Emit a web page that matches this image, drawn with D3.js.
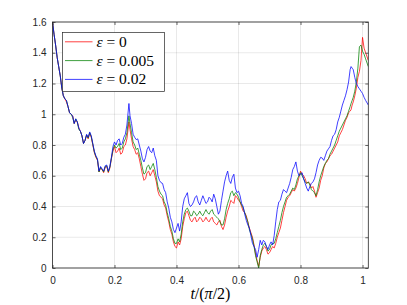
<!DOCTYPE html>
<html>
<head>
<meta charset="utf-8">
<script src="https://cdn.jsdelivr.net/npm/d3@7"></script>
<style>
  body { margin: 0; background: #fff; }
</style>
</head>
<body>
<div id="chart"></div>
<script>

// sample times t/(pi/2)
const tVals = [
  0, 0.01, 0.02, 0.03, 0.04, 0.05, 0.06, 0.07, 0.08, 0.09,
  0.10, 0.11, 0.12, 0.13, 0.14, 0.15, 0.16, 0.17, 0.18, 0.19,
  0.20, 0.21, 0.22, 0.23, 0.24, 0.2465, 0.25, 0.26, 0.27, 0.28, 0.29,
  0.30, 0.31, 0.32, 0.33, 0.34, 0.35, 0.36, 0.37, 0.38, 0.39,
  0.40, 0.41, 0.42, 0.43, 0.44, 0.45, 0.46, 0.47, 0.48, 0.49,
  0.50, 0.51, 0.52, 0.53, 0.54, 0.55, 0.56, 0.57, 0.58, 0.59,
  0.60, 0.61, 0.62, 0.63, 0.64, 0.65, 0.66, 0.665, 0.67, 0.68, 0.69,
  0.70, 0.71, 0.72, 0.73, 0.74, 0.75, 0.76, 0.77, 0.78, 0.79,
  0.80, 0.81, 0.82, 0.83, 0.84, 0.85, 0.86, 0.87, 0.88, 0.89,
  0.90, 0.91, 0.92, 0.93, 0.94, 0.95, 0.96, 0.963, 0.97, 0.98, 0.99,
  1.00, 1.01, 1.0186
]

// eps = 0  (red)
const epsZero = [
  1.60, 1.45, 1.31, 1.17, 1.10, 1.05, 1.00, 0.94, 0.95, 0.89,
  0.81, 0.865, 0.875, 0.80, 0.72, 0.625, 0.64, 0.655, 0.62, 0.71,
  0.79, 0.76, 0.74, 0.79, 0.84, 0.95, 0.90, 0.79, 0.74, 0.71, 0.61,
  0.58, 0.63, 0.62, 0.60, 0.50, 0.46, 0.41, 0.34, 0.25, 0.17,
  0.13, 0.15, 0.27, 0.36, 0.34, 0.30, 0.33, 0.31, 0.32, 0.31,
  0.31, 0.32, 0.30, 0.28, 0.31, 0.25, 0.33, 0.40, 0.43, 0.47,
  0.44, 0.40, 0.36, 0.30, 0.23, 0.15, 0.05, 0.01, 0.07, 0.13, 0.12,
  0.10, 0.14, 0.16, 0.23, 0.31, 0.40, 0.46, 0.49, 0.50, 0.55,
  0.63, 0.60, 0.55, 0.55, 0.53, 0.46, 0.52, 0.60, 0.68, 0.71,
  0.74, 0.78, 0.82, 0.88, 0.93, 0.98, 1.02, 1.03, 1.08, 1.17, 1.28,
  1.50, 1.40, 1.35
]

// eps = 0.005  (green)
const epsSmall = [
  1.60, 1.45, 1.31, 1.17, 1.10, 1.05, 1.00, 0.94, 0.95, 0.89,
  0.81, 0.865, 0.88, 0.805, 0.725, 0.625, 0.64, 0.66, 0.625, 0.715,
  0.80, 0.79, 0.77, 0.82, 0.88, 0.99, 0.94, 0.82, 0.77, 0.74, 0.65,
  0.62, 0.67, 0.66, 0.64, 0.53, 0.48, 0.43, 0.36, 0.27, 0.19,
  0.16, 0.17, 0.30, 0.38, 0.37, 0.34, 0.36, 0.35, 0.35, 0.36,
  0.36, 0.37, 0.35, 0.33, 0.30, 0.28, 0.38, 0.45, 0.50, 0.49,
  0.46, 0.41, 0.36, 0.30, 0.22, 0.14, 0.04, 0.00, 0.08, 0.15, 0.14,
  0.12, 0.16, 0.19, 0.27, 0.36, 0.43, 0.47, 0.50, 0.51, 0.58,
  0.62, 0.58, 0.55, 0.54, 0.50, 0.47, 0.56, 0.63, 0.68, 0.71,
  0.76, 0.80, 0.86, 0.91, 0.95, 0.99, 1.05, 1.07, 1.11, 1.21, 1.44,
  1.41, 1.36, 1.31
]

// eps = 0.02  (blue)
const epsLarge = [
  1.60, 1.45, 1.31, 1.17, 1.10, 1.05, 1.00, 0.94, 0.95, 0.89,
  0.81, 0.87, 0.885, 0.81, 0.73, 0.63, 0.645, 0.665, 0.63, 0.72,
  0.82, 0.83, 0.80, 0.85, 0.93, 1.07, 0.99, 0.87, 0.835, 0.80, 0.71,
  0.72, 0.79, 0.75, 0.73, 0.60, 0.555, 0.51, 0.43, 0.33, 0.25,
  0.26, 0.24, 0.40, 0.47, 0.42, 0.41, 0.46, 0.43, 0.44, 0.445,
  0.43, 0.45, 0.48, 0.40, 0.37, 0.50, 0.60, 0.57, 0.59, 0.52,
  0.50, 0.42, 0.35, 0.28, 0.21, 0.14, 0.07, 0.12, 0.18, 0.18, 0.14,
  0.15, 0.15, 0.30, 0.43, 0.48, 0.50, 0.52, 0.59, 0.66, 0.63,
  0.61, 0.58, 0.52, 0.53, 0.56, 0.62, 0.70, 0.715, 0.73, 0.775,
  0.83, 0.87, 0.95, 1.02, 1.09, 1.16, 1.29, 1.31, 1.29, 1.20, 1.165,
  1.135, 1.09, 1.06
]

// extra in-between samples (the fine jitter of the traces)
const tMid = [
  0.005, 0.015, 0.025, 0.035, 0.045, 0.055, 0.065, 0.075, 0.085, 0.095,
  0.105, 0.115, 0.125, 0.135, 0.145, 0.155, 0.165, 0.175, 0.185, 0.195,
  0.205, 0.215, 0.225, 0.235,
  0.255, 0.265, 0.275, 0.285, 0.295,
  0.305, 0.315, 0.325, 0.335, 0.345, 0.355, 0.365, 0.375, 0.385, 0.395,
  0.405, 0.415, 0.425, 0.435, 0.445, 0.455, 0.465, 0.475, 0.485, 0.495,
  0.505, 0.515, 0.525, 0.535, 0.545, 0.555, 0.565, 0.575, 0.585, 0.595,
  0.605, 0.615, 0.625, 0.635, 0.645, 0.655,
  0.675, 0.685, 0.695,
  0.705, 0.715, 0.725, 0.735, 0.745, 0.755, 0.765, 0.775, 0.785, 0.795,
  0.805, 0.815, 0.825, 0.835, 0.845, 0.855, 0.865, 0.875, 0.885, 0.895,
  0.905, 0.915, 0.925, 0.935, 0.945, 0.955,
  0.9665, 0.975, 0.985, 0.995, 1.005
]

const epsZeroMid = [
  1.52, 1.37, 1.25, 1.12, 1.08, 1.01, 0.99, 0.96, 0.91, 0.86,
  0.83, 0.84, 0.85, 0.75, 0.70, 0.65, 0.62, 0.66, 0.65, 0.76,
  0.75, 0.78, 0.75, 0.80,
  0.84, 0.77, 0.75, 0.66, 0.57,
  0.62, 0.60, 0.64, 0.56, 0.47, 0.45, 0.39, 0.30, 0.22, 0.14,
  0.17, 0.19, 0.32, 0.37, 0.31, 0.32, 0.30, 0.33, 0.30, 0.33,
  0.30, 0.33, 0.29, 0.30, 0.27, 0.28, 0.37, 0.44, 0.42, 0.46,
  0.43, 0.37, 0.34, 0.26, 0.20, 0.09,
  0.11, 0.14, 0.09,
  0.12, 0.13, 0.20, 0.26, 0.36, 0.44, 0.47, 0.51, 0.52, 0.59,
  0.61, 0.58, 0.56, 0.52, 0.50, 0.49, 0.57, 0.65, 0.69, 0.73,
  0.76, 0.80, 0.86, 0.90, 0.96, 1.01,
  1.06, 1.12, 1.24, 1.35, 1.43
]

const epsSmallMid = [
  1.52, 1.37, 1.25, 1.12, 1.09, 1.01, 0.98, 0.97, 0.90, 0.86,
  0.83, 0.845, 0.855, 0.755, 0.705, 0.655, 0.625, 0.665, 0.655, 0.77,
  0.78, 0.81, 0.78, 0.84,
  0.88, 0.80, 0.78, 0.70, 0.61,
  0.66, 0.64, 0.68, 0.59, 0.50, 0.47, 0.41, 0.32, 0.24, 0.16,
  0.19, 0.22, 0.35, 0.39, 0.34, 0.37, 0.34, 0.37, 0.34, 0.38,
  0.35, 0.38, 0.34, 0.32, 0.28, 0.32, 0.42, 0.49, 0.47, 0.48,
  0.43, 0.39, 0.33, 0.25, 0.19, 0.08,
  0.12, 0.16, 0.11,
  0.15, 0.16, 0.23, 0.31, 0.40, 0.46, 0.48, 0.52, 0.54, 0.60,
  0.60, 0.56, 0.56, 0.51, 0.49, 0.51, 0.60, 0.66, 0.70, 0.74,
  0.78, 0.83, 0.89, 0.93, 0.97, 1.02,
  1.09, 1.15, 1.30, 1.45, 1.39
]

const epsLargeMid = [
  1.52, 1.37, 1.25, 1.12, 1.09, 1.01, 0.99, 0.97, 0.91, 0.86,
  0.83, 0.85, 0.86, 0.76, 0.71, 0.66, 0.63, 0.67, 0.66, 0.79,
  0.80, 0.84, 0.81, 0.87,
  0.94, 0.85, 0.84, 0.76, 0.69,
  0.77, 0.76, 0.78, 0.70, 0.57, 0.55, 0.49, 0.39, 0.30, 0.23,
  0.29, 0.30, 0.45, 0.49, 0.40, 0.43, 0.47, 0.41, 0.47, 0.42,
  0.46, 0.43, 0.45, 0.35, 0.44, 0.56, 0.63, 0.55, 0.61, 0.49,
  0.47, 0.40, 0.31, 0.26, 0.16, 0.12,
  0.15, 0.17, 0.12,
  0.17, 0.21, 0.38, 0.44, 0.51, 0.49, 0.55, 0.64, 0.69, 0.60,
  0.62, 0.55, 0.50, 0.55, 0.58, 0.67, 0.72, 0.70, 0.76, 0.79,
  0.86, 0.90, 0.98, 1.06, 1.12, 1.21,
  1.30, 1.24, 1.18, 1.15, 1.11
]

const seriesNames = ["0", "0.005", "0.02"]
const seriesColors = ["#ff0000", "#008000", "#0000ff"]
const xTicks = [0, 0.2, 0.4, 0.6, 0.8, 1]
const yTicks = [0, 0.2, 0.4, 0.6, 0.8, 1, 1.2, 1.4, 1.6]

const width = 407
const height = 305
const axisColor = "#262626"

// merge the main and in-between samples of one series, in time order
function build_points(values, midValues) {
    const pts = tVals.map((t, i) => [t, values[i]])
        .concat(tMid.map((t, i) => [t, midValues[i]]))
    return pts.sort((a, b) => a[0] - b[0])
}

const allSeries = [
    build_points(epsZero, epsZeroMid),
    build_points(epsSmall, epsSmallMid),
    build_points(epsLarge, epsLargeMid)
]

const svg = d3.select("#chart").append("svg")
    .attr("width", width)
    .attr("height", height)

const x = d3.scaleLinear()
    .domain([0, 1.6 / (Math.PI / 2)])
    .range([52.5, 368.3])

const y = d3.scaleLinear()
    .domain([0, 1.6])
    .range([268, 22])

const [x0, x1] = x.range()
const [y0, y1] = y.range()

// grid
const grid = svg.append("g")
grid.selectAll(".gx").data(xTicks).join("line")
    .attr("x1", d => x(d)).attr("x2", d => x(d))
    .attr("y1", y0).attr("y2", y1)
    .attr("stroke", axisColor).attr("stroke-opacity", 0.15).attr("stroke-width", 0.7)
grid.selectAll(".gy").data(yTicks).join("line")
    .attr("x1", x0).attr("x2", x1)
    .attr("y1", d => y(d)).attr("y2", d => y(d))
    .attr("stroke", axisColor).attr("stroke-opacity", 0.15).attr("stroke-width", 0.7)

// lines
svg.append("clipPath").attr("id", "plot_clip")
    .append("rect")
    .attr("x", x0).attr("y", y1)
    .attr("width", x1 - x0).attr("height", y0 - y1)

const line = d3.line()
    .x(d => x(d[0]))
    .y(d => y(d[1]))

svg.append("g").attr("clip-path", "url(#plot_clip)")
    .selectAll("path")
    .data(allSeries)
    .join("path")
    .attr("d", d => line(d))
    .attr("fill", "none")
    .attr("stroke", (d, i) => seriesColors[i])
    .attr("stroke-width", 0.75)
    .attr("stroke-linejoin", "round")

// axes
function style_axis(g) {
    g.select(".domain").remove()
    g.selectAll(".tick line").attr("stroke", axisColor).attr("stroke-width", 0.7)
    g.selectAll(".tick text")
        .attr("fill", axisColor)
        .style("font-family", "'Liberation Sans', Arial, sans-serif")
        .style("font-size", "10px")
}

svg.append("g")
    .attr("transform", `translate(0,${y0})`)
    .call(d3.axisBottom(x).tickValues(xTicks).tickSize(-3).tickPadding(9).tickFormat(d3.format("~g")))
    .call(style_axis)

svg.append("g")
    .attr("transform", `translate(0,${y1})`)
    .call(d3.axisTop(x).tickValues(xTicks).tickSize(-3).tickFormat(""))
    .call(style_axis)

svg.append("g")
    .attr("transform", `translate(${x0},0)`)
    .call(d3.axisLeft(y).tickValues(yTicks).tickSize(-3).tickPadding(6).tickFormat(d3.format("~g")))
    .call(style_axis)

svg.append("g")
    .attr("transform", `translate(${x1},0)`)
    .call(d3.axisRight(y).tickValues(yTicks).tickSize(-3).tickFormat(""))
    .call(style_axis)

// box
svg.append("rect")
    .attr("x", x0).attr("y", y1)
    .attr("width", x1 - x0).attr("height", y0 - y1)
    .attr("fill", "none")
    .attr("stroke", axisColor)
    .attr("stroke-width", 0.8)

// x label
const xlabel = svg.append("text")
    .attr("x", (x0 + x1) / 2)
    .attr("y", 299)
    .attr("text-anchor", "middle")
    .style("font-family", "'Liberation Serif', 'Times New Roman', serif")
    .style("font-size", "16px")
    .attr("fill", "#000")
xlabel.append("tspan").style("font-style", "italic").text("t")
xlabel.append("tspan").text("/(")
xlabel.append("tspan").style("font-style", "italic").text("π")
xlabel.append("tspan").text("/2)")

// legend
const legend = svg.append("g")

legend.append("rect")
    .attr("x", 62.5).attr("y", 32.5)
    .attr("width", 102).attr("height", 59)
    .attr("fill", "#fff")
    .attr("stroke", axisColor)
    .attr("stroke-width", 0.7)

const legendRows = legend.selectAll(".row")
    .data(seriesNames)
    .join("g")
    .attr("transform", (d, i) => `translate(0,${41.8 + i * 18.8})`)

legendRows.append("line")
    .attr("x1", 65).attr("x2", 92.5)
    .attr("stroke", (d, i) => seriesColors[i])
    .attr("stroke-width", 0.75)

const legendText = legendRows.append("text")
    .attr("x", 96.5)
    .attr("y", 5)
    .style("font-family", "'Liberation Serif', 'Times New Roman', serif")
    .style("font-size", "15.5px")
    .attr("fill", "#000")
legendText.append("tspan").style("font-style", "italic").text("ε")
legendText.append("tspan").text(d => " = " + d)

</script>
</body>
</html>
